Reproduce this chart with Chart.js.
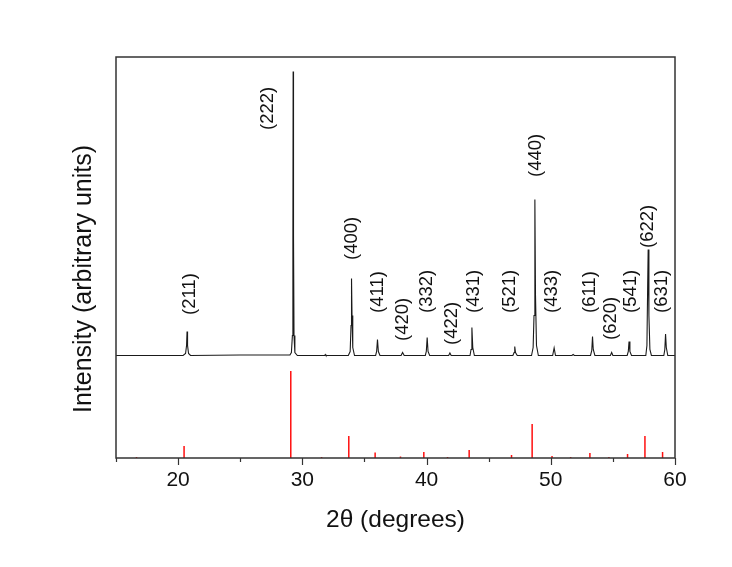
<!DOCTYPE html>
<html><head><meta charset="utf-8">
<script src="https://cdn.jsdelivr.net/npm/chart.js@4.4.0/dist/chart.umd.min.js"></script>
<style>html,body{margin:0;padding:0;background:#fff;} canvas{display:block;}</style>
</head><body>
<canvas id="c" width="732" height="567"></canvas>
<script>
// Measured XRD scan (2θ, intensity above baseline, arbitrary units)
const scanX = [15.0, 20.4, 20.6, 20.68, 20.72, 20.76, 20.84, 21.0, 25.0, 29.0, 29.12, 29.2, 29.24, 29.26, 29.29, 29.33, 29.4, 29.6,
  31.8, 31.85, 31.9, 33.7, 33.85, 33.92, 33.96, 34.0, 34.06, 34.2, 35.9, 35.98, 36.05, 36.12, 36.25,
  37.95, 38.07, 38.2, 39.9, 39.98, 40.05, 40.12, 40.25, 41.78, 41.88, 41.98, 43.5, 43.58, 43.65, 43.72, 43.85,
  46.95, 47.05, 47.1, 47.16, 47.3, 48.45, 48.58, 48.65, 48.72, 48.77, 48.85, 49.0, 50.15, 50.27, 50.38,
  51.7, 51.8, 51.9, 53.2, 53.3, 53.36, 53.42, 53.55, 54.8, 54.9, 55.0, 56.15, 56.24, 56.3, 56.37, 56.5,
  57.65, 57.74, 57.8, 57.84, 57.9, 57.98, 58.1, 59.1, 59.18, 59.24, 59.3, 59.42, 60.0];
const scanY = [0, 0, 2, 10, 24, 10, 2, 0, 0.5, 0.5, 3, 20, 120, 284, 120, 20, 3, 0,
  0, 1, 0, 0, 4, 30, 77, 40, 8, 0, 0, 4, 16, 4, 0,
  0, 3, 0, 0, 4, 18, 4, 0, 0, 2.5, 0, 0, 6, 28, 8, 0,
  0, 3, 9, 3, 0, 0, 8, 40, 156, 60, 10, 0, 0, 7.5, 0,
  0, 1, 0, 0, 5, 19, 6, 0, 0, 3, 0, 0, 4, 14, 4, 0,
  0, 10, 70, 106, 40, 6, 0, 0, 6, 21.5, 8, 0, 0];
const patternOffset = 102.5;

// Reference pattern sticks (2θ, relative intensity)
const stickX = [16.65, 20.48, 29.07, 31.55, 33.74, 35.86, 37.9, 39.78, 41.69, 43.43, 46.84, 48.5, 50.1, 51.6, 53.15, 54.68, 56.18, 57.58, 59.0];
const stickY = [1, 12, 87, 1, 22, 5.5, 1.5, 6, 1, 8, 3, 34, 2, 1, 5, 1, 4, 22, 6];

// Miller index labels
const hklText = ['(211)', '(222)', '(400)', '(411)', '(420)', '(332)', '(422)', '(431)', '(521)', '(440)', '(433)', '(611)', '(620)', '(541)', '(622)', '(631)'];
const hklX = [20.96, 27.24, 34.0, 36.1, 38.1, 40.04, 42.03, 43.82, 46.67, 48.82, 50.08, 53.16, 54.82, 56.44, 57.83, 58.98];
const hklY = [143, 328, 198, 145, 117, 145, 113, 145, 145, 281, 145, 145, 118, 145, 210, 145];

const tickLabels = [20, 30, 40, 50, 60];
const minorTicks = [15, 25, 35, 45, 55];

const patternData = scanX.map((x, i) => ({x: x, y: scanY[i] + patternOffset}));
const stickData = [];
stickX.forEach((x, i) => { stickData.push({x: x, y: 0}, {x: x, y: stickY[i]}, {x: x, y: null}); });

const FONT = "'Liberation Sans', Arial, sans-serif";

const decor = {
  id: 'decor',
  afterDatasetsDraw(chart) {
    const {ctx, chartArea: a, scales: {x, y}} = chart;
    ctx.save();
    ctx.strokeStyle = '#333'; ctx.lineWidth = 1.5;
    ctx.strokeRect(a.left, a.top, a.right - a.left, a.bottom - a.top);
    ctx.lineWidth = 1.2;
    tickLabels.forEach(v => { const p = Math.round(x.getPixelForValue(v)) + 0.5; ctx.beginPath(); ctx.moveTo(p, a.bottom); ctx.lineTo(p, a.bottom + 7); ctx.stroke(); });
    minorTicks.forEach(v => { const p = Math.round(x.getPixelForValue(v)) + 0.5; ctx.beginPath(); ctx.moveTo(p, a.bottom); ctx.lineTo(p, a.bottom + 4); ctx.stroke(); });
    ctx.fillStyle = '#111'; ctx.font = '18.5px ' + FONT; ctx.textAlign = 'left'; ctx.textBaseline = 'middle';
    hklText.forEach((t, i) => {
      ctx.save();
      ctx.translate(x.getPixelForValue(hklX[i]), y.getPixelForValue(hklY[i]));
      ctx.rotate(-Math.PI / 2);
      ctx.fillText(t, 0, 0);
      ctx.restore();
    });
    ctx.font = '25px ' + FONT; ctx.textAlign = 'center';
    ctx.translate(a.left - 32, (a.top + a.bottom) / 2 + 21.5);
    ctx.rotate(-Math.PI / 2);
    ctx.fillText('Intensity (arbitrary units)', 0, 0);
    ctx.restore();
  }
};

new Chart(document.getElementById('c'), {
  type: 'scatter',
  data: {datasets: [
    {data: patternData, showLine: true, borderColor: '#1a1a1a', borderWidth: 1.1, pointRadius: 0, tension: 0},
    {data: stickData, showLine: true, borderColor: '#ff1010', borderWidth: 1.5, pointRadius: 0, spanGaps: false}
  ]},
  options: {
    responsive: false, animation: false, devicePixelRatio: 1,
    layout: {padding: {left: 116, right: 57, top: 57, bottom: 0}},
    plugins: {legend: {display: false}, tooltip: {enabled: false}},
    scales: {
      x: {
        type: 'linear', min: 15, max: 60,
        grid: {display: false, drawTicks: false}, border: {display: false},
        afterBuildTicks: s => { s.ticks = tickLabels.map(v => ({value: v})); },
        afterFit: s => { s.height = 109; },
        ticks: {padding: 10, color: '#111', font: {family: FONT, size: 21}, maxRotation: 0, autoSkip: false},
        title: {display: true, text: '2θ (degrees)', color: '#111', font: {family: FONT, size: 24.5}, padding: {top: 0, bottom: 32}}
      },
      y: {display: false, min: 0, max: 401}
    }
  },
  plugins: [decor]
});
</script>
</body></html>
